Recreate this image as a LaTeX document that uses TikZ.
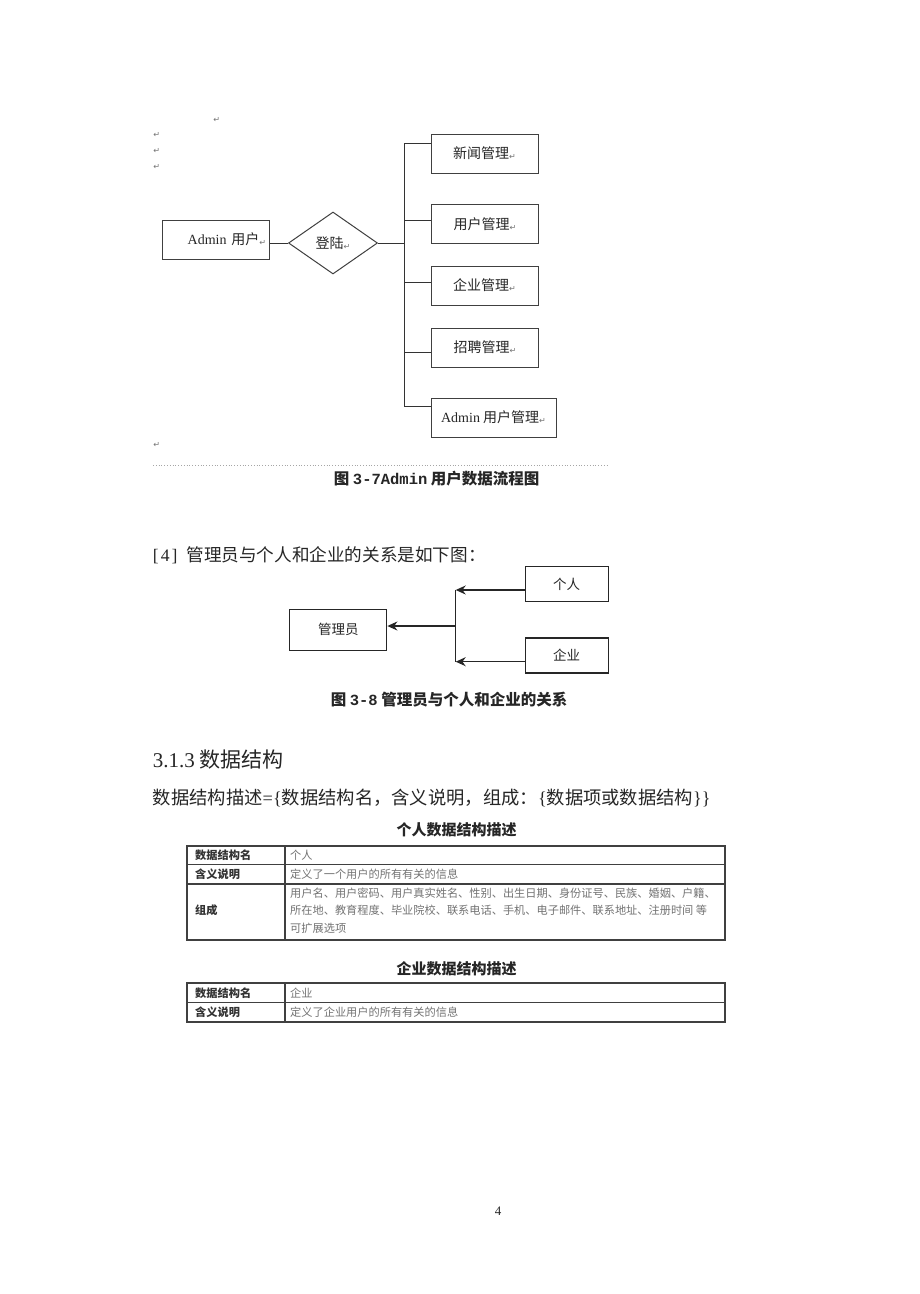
\documentclass[tikz,border=0pt]{standalone}
\usepackage{fontspec}
\setmainfont{Noto Sans CJK SC}
\newfontfamily\tms{Liberation Serif}
\newfontfamily\cour{Liberation Mono}
\newfontfamily\dvs{DejaVu Sans}
\usepackage{tikz}
\usetikzlibrary{shapes.geometric,arrows.meta}
\newcommand{\fsz}[1]{\fontsize{#1}{#1}\selectfont}
\newcommand{\retmark}{{\dvs\fontsize{8}{8}\selectfont\color{black!55}\raisebox{-1pt}{↵}}}

\begin{document}
\begin{tikzpicture}[
		x=1pt, y=-1pt,
		every node/.style={inner sep=0pt, text=black!85},
		box/.style={draw=black!75, line width=1pt, minimum width=107pt, minimum height=39pt, font=\fsz{14}},
		relbox/.style={draw=black!85, line width=1.2pt, minimum width=83pt, minimum height=35pt, font=\fsz{13.5}},
		caption/.style={font=\bfseries\fsz{15.5}},
		head/.style={anchor=west, font=\bfseries\fsz{11.2}, text=black!80},
		cell/.style={anchor=west, font=\fsz{11.2}, text=black!55},
		link/.style={draw=black!80, line width=1pt},
		arr/.style={draw=black!85, line width=1.3pt, -{Stealth[length=10pt, width=9pt]}},
		grid/.style={draw=black!75, line width=1.4pt}
	]
  \fill[white] (0,0) rectangle (920,1294);
  \useasboundingbox (0,0) rectangle (920,1294);

  \node (adm) [box, text width=100pt, align=right] at (216,239.5) {{\tms Admin} 用户\retmark};
  \node (login) [diamond, aspect=1.44, draw=black!75, line width=1pt, minimum width=89pt, minimum height=62pt, font=\fsz{14}] at (333,243) {登陆\retmark};
  \node (news) [box] at (484.5,153.5) {新闻管理\retmark};
  \node (usr) [box] at (485,223.7) {用户管理\retmark};
  \node (corp) [box] at (484.5,285.5) {企业管理\retmark};
  \node (hire) [box] at (485,347.5) {招聘管理\retmark};
  \node (admm) [box, minimum width=125pt] at (493.5,417.5) {{\tms Admin} 用户管理\retmark};
  \coordinate (hub) at (404,243);
  \coordinate (b1) at (404,143);
  \coordinate (b2) at (404,220);
  \coordinate (b3) at (404,282);
  \coordinate (b4) at (404,352);
  \coordinate (b5) at (404,406);
  \draw[link] (login.west -| adm.east) -- (login.west);
  \draw[link] (login.east) -- (hub);
  \draw[link] (b1) -- (b5);
  \foreach \b/\n in {b1/news, b2/usr, b3/corp, b4/hire, b5/admm}
    \draw[link] (\b) -- (\b -| \n.west);
  \foreach \x/\y [count=\i] in {216.7/120, 156.7/135, 156.7/150.7, 156.7/166.7, 156.7/445}
    \node (ret\i) at (\x,\y) {\retmark};
  \draw[black!35, dotted, line width=0.8pt] (153,465) -- (608,465);
  \node (cap1) [caption] at (436.7,479) {图 {\cour 3-7Admin} 用户数据流程图};

  \node (para) [anchor=west, font=\fsz{17.6}] at (152.7,555) {{\tms [\hspace{2pt}4\hspace{2pt}]}\hspace{9pt}管理员与个人和企业的关系是如下图：};
  \node (gr) [relbox] at (566.7,584.3) {个人};
  \node (qy) [relbox] at (566.7,655.5) {企业};
  \node (gly) [relbox, minimum width=97pt, minimum height=41pt] at (338.3,629.7) {管理员};
  \coordinate (j1) at (455.7,590);
  \coordinate (j0) at (455.7,626);
  \coordinate (j2) at (455.7,661.7);
  \draw[arr] (j1 -| gr.west) -- (j1);
  \draw[arr] (j2 -| qy.west) -- (j2);
  \draw[draw=black!85, line width=1.3pt] (j1) -- (j2);
  \draw[arr] (j0) -- (j0 -| gly.east);
  \node (cap2) [caption] at (449,699.3) {图 {\cour 3-8} 管理员与个人和企业的关系};

  \node (sec) [anchor=west, font=\fsz{21}] at (152.7,760) {{\tms 3.1.3} 数据结构};
  \node (desc) [anchor=west, font=\fsz{18.3}] at (152.7,798) {数据结构描述{\tms =\{}数据结构名，含义说明，组成：{\tms \{}数据项或数据结构{\tms \}\}}};

  \node (t1) [font=\bfseries\fsz{15}] at (456.7,830) {个人数据结构描述};
  \draw[grid, line width=1.8pt] (186.7,846) rectangle (725,940);
  \draw[grid] (186.7,864.3) -- (725,864.3) (186.7,884) -- (725,884) (285,846) -- (285,940);
  \node (k11) [head] at (195,855) {数据结构名};
  \node (v11) [cell] at (290,855) {个人};
  \node (k12) [head] at (195,874) {含义说明};
  \node (v12) [cell] at (290,874) {定义了一个用户的所有有关的信息};
  \node (k13) [head] at (195,910) {组成};
  \node (v13) [cell, align=left, font=\fontsize{11.2}{17.5}\selectfont] at (290,910.5)
    {用户名、用户密码、用户真实姓名、性别、出生日期、身份证号、民族、婚姻、户籍、\\
     所在地、教育程度、毕业院校、联系电话、手机、电子邮件、联系地址、注册时间 等\\
     可扩展选项};

  \node (t2) [font=\bfseries\fsz{15}] at (456.7,968.3) {企业数据结构描述};
  \draw[grid, line width=1.8pt] (186.7,983.3) rectangle (725,1021.7);
  \draw[grid] (186.7,1002.7) -- (725,1002.7) (285,983.3) -- (285,1021.7);
  \node (k21) [head] at (195,993.3) {数据结构名};
  \node (v21) [cell] at (290,993.3) {企业};
  \node (k22) [head] at (195,1012.7) {含义说明};
  \node (v22) [cell] at (290,1012.7) {定义了企业用户的所有有关的信息};

  \node (pg) [font=\tms\fsz{13}] at (498,1211) {4};
\end{tikzpicture}
\end{document}
